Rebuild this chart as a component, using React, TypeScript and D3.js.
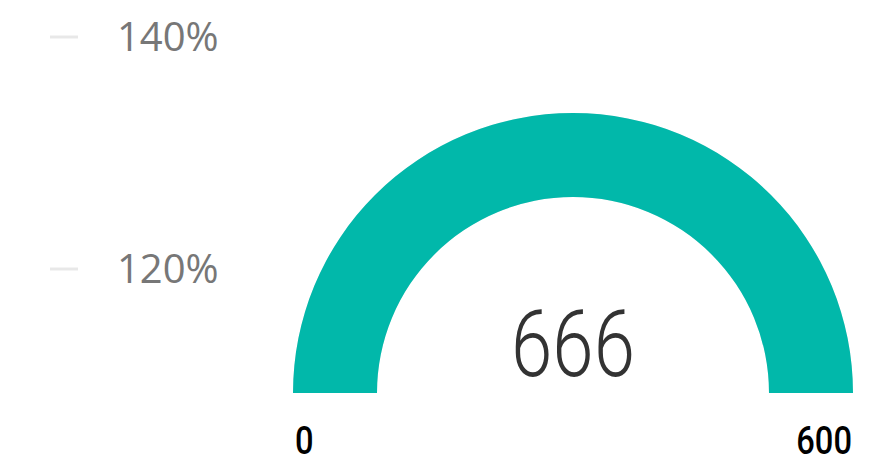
import React, { useEffect, useRef } from 'react';
import * as d3 from 'd3';

// gauge values
const gaugeValue = [666];
const gaugeRange = [0, 600];
const gaugeLabels = ['0', '600'];

// partial y-axis visible at the left
const axisTicks = [1.4, 1.2];
const axisDomain = [1.2, 1.4];

const W = 872;
const H = 458;

export default function App() {
  const ref = useRef<SVGSVGElement>(null);

  useEffect(() => {
    const svg = d3.select(ref.current)
      .attr('width', W)
      .attr('height', H)
      .html('');

    // left axis ticks
    const y = d3.scaleLinear().domain(axisDomain).range([269, 37]);
    const ax = svg.append('g');
    ax.selectAll('line')
      .data(axisTicks)
      .enter().append('line')
      .attr('x1', 50).attr('x2', 78)
      .attr('y1', d => y(d)).attr('y2', d => y(d))
      .attr('stroke', '#e8e8e8')
      .attr('stroke-width', 3);
    ax.selectAll('text')
      .data(axisTicks)
      .enter().append('text')
      .attr('x', 117)
      .attr('y', d => y(d) + 14)
      .style('font-family', '"Open Sans", sans-serif')
      .style('font-size', '40px')
      .attr('fill', '#777777')
      .text(d => d3.format('.0%')(d));

    // gauge
    const cx = 573, cy = 393, outerR = 280, innerR = 196;
    const angle = d3.scaleLinear()
      .domain(gaugeRange)
      .range([-Math.PI / 2, Math.PI / 2])
      .clamp(true);

    const g = svg.append('g').attr('transform', `translate(${cx},${cy})`);
    const arc = d3.arc<any>().innerRadius(innerR).outerRadius(outerR);

    g.append('path')
      .attr('d', arc({ startAngle: -Math.PI / 2, endAngle: Math.PI / 2 }))
      .attr('fill', '#e9e9e9');

    g.selectAll('path.value')
      .data(gaugeValue)
      .enter().append('path')
      .attr('class', 'value')
      .attr('d', d => arc({ startAngle: -Math.PI / 2, endAngle: angle(d) }))
      .attr('fill', '#01B8AA');

    // center value
    g.append('text')
      .attr('x', 0)
      .attr('y', -17)
      .attr('text-anchor', 'middle')
      .attr('transform', 'scale(0.8,1)')
      .style('font-family', 'Roboto, sans-serif')
      .style('font-weight', 300)
      .style('font-size', '93px')
      .attr('fill', '#333333')
      .text(gaugeValue[0]);

    // min / max labels (condensed look via horizontal scale)
    const sx = 0.86;
    g.selectAll('text.minmax')
      .data(gaugeLabels)
      .enter().append('text')
      .attr('class', 'minmax')
      .attr('transform', `scale(${sx},1)`)
      .attr('x', (d, i) => (i === 0 ? (-outerR + 2) / sx : (outerR - 1) / sx))
      .attr('y', 61)
      .attr('text-anchor', (d, i) => (i === 0 ? 'start' : 'end'))
      .style('font-family', 'Roboto, sans-serif')
      .style('font-weight', 500)
      .style('font-size', '38px')
      .attr('fill', '#000000')
      .text(d => d);
  }, []);

  return <svg ref={ref} style={{ position: 'absolute', left: 0, top: 0 }} />;
}
